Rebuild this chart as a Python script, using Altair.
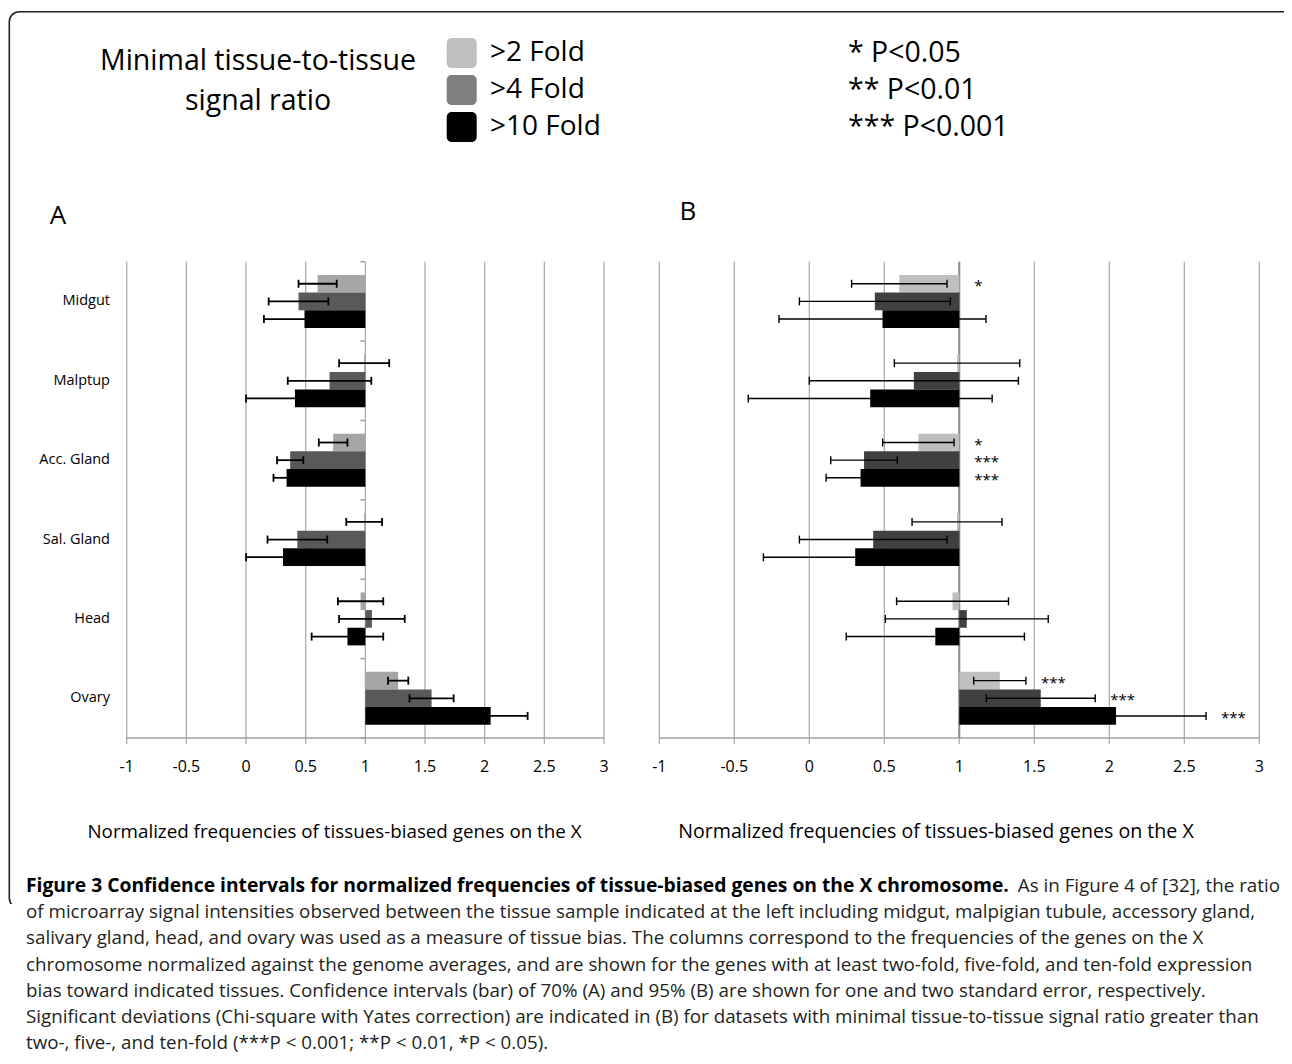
import altair as alt
import pandas as pd

# ---------------- data ----------------
tissues = ["Midgut", "Malptup", "Acc. Gland", "Sal. Gland", "Head", "Ovary"]
series = [">2 Fold", ">4 Fold", ">10 Fold"]

# Panel A (70% CI, one standard error)
a_fold2 = [0.60, 0.99, 0.73, 0.99, 0.96, 1.275]
a_fold4 = [0.44, 0.70, 0.37, 0.43, 1.055, 1.555]
a_fold10 = [0.49, 0.41, 0.34, 0.31, 0.85, 2.05]
a_err2 = [0.16, 0.21, 0.12, 0.15, 0.19, 0.085]
a_err4 = [0.25, 0.35, 0.11, 0.25, 0.275, 0.185]
a_err10 = [0.34, 0.41, 0.11, 0.31, 0.30, 0.31]

# Panel B (95% CI, two standard errors)
b_fold2 = [0.60, 0.985, 0.727, 0.985, 0.955, 1.27]
b_fold4 = [0.437, 0.697, 0.365, 0.426, 1.05, 1.543]
b_fold10 = [0.488, 0.406, 0.342, 0.306, 0.84, 2.045]
b_err2 = [0.318, 0.418, 0.238, 0.30, 0.373, 0.174]
b_err4 = [0.503, 0.697, 0.222, 0.492, 0.543, 0.363]
b_err10 = [0.69, 0.813, 0.23, 0.612, 0.594, 0.60]
b_stars2 = ["*", "", "*", "", "", "***"]
b_stars4 = ["", "", "***", "", "", "***"]
b_stars10 = ["", "", "***", "", "", "***"]

tick_values = [-1, -0.5, 0, 0.5, 1, 1.5, 2, 2.5, 3]
tick_labels = ["-1", "-0.5", "0", "0.5", "1", "1.5", "2", "2.5", "3"]

p_labels = ["* P<0.05", "** P<0.01", "*** P<0.001"]
legend_title = ["Minimal tissue-to-tissue", "signal ratio"]
axis_title = "Normalized frequencies of tissues-biased genes on the X"

caption_bold = ("Figure 3 Confidence intervals for normalized frequencies of "
                "tissue-biased genes on the X chromosome.")
caption_first_rest = "As in Figure 4 of [32], the ratio"
caption_lines = [
    "of microarray signal intensities observed between the tissue sample indicated at the left including midgut, malpigian tubule, accessory gland,",
    "salivary gland, head, and ovary was used as a measure of tissue bias. The columns correspond to the frequencies of the genes on the X",
    "chromosome normalized against the genome averages, and are shown for the genes with at least two-fold, five-fold, and ten-fold expression",
    "bias toward indicated tissues. Confidence intervals (bar) of 70% (A) and 95% (B) are shown for one and two standard error, respectively.",
    "Significant deviations (Chi-square with Yates correction) are indicated in (B) for datasets with minimal tissue-to-tissue signal ratio greater than",
    "two-, five-, and ten-fold (***P < 0.001; **P < 0.01, *P < 0.05).",
]

colors_a = ["#A6A6A6", "#595959", "#000000"]
colors_b = ["#BFBFBF", "#404040", "#000000"]
colors_legend = ["#BFBFBF", "#7F7F7F", "#000000"]

FONT = "Open Sans"


def panel_frame(vals, errs, stars=None):
    rows = []
    for si, s in enumerate(series):
        for ti, t in enumerate(tissues):
            v = vals[si][ti]
            e = errs[si][ti]
            rows.append(dict(tissue=t, series=s, value=v, base=1.0,
                             lo=v - e, hi=v + e,
                             star=(stars[si][ti] if stars else ""),
                             starx=max(v + e, 1.0)))
    return pd.DataFrame(rows)


df_a = panel_frame([a_fold2, a_fold4, a_fold10], [a_err2, a_err4, a_err10])
df_b = panel_frame([b_fold2, b_fold4, b_fold10], [b_err2, b_err4, b_err10],
                   [b_stars2, b_stars4, b_stars10])
df_ticks = pd.DataFrame({"tick": tick_values, "label": tick_labels})
df_tis = pd.DataFrame({"tissue": tissues})
df_leg = pd.DataFrame({"series": series, "plabel": p_labels})
df_one = pd.DataFrame({"lo": [-1], "hi": [3], "one": [1]})
df_bounds = pd.DataFrame({"b": list(range(len(tissues) + 1)), "one": 1})

PLOT_TOP, PLOT_BOT = 253.7, 730.0
y_scale = alt.Scale(domain=tissues, range=[PLOT_TOP, PLOT_BOT],
                    paddingInner=0.333, paddingOuter=0.1667)
yoff_scale = alt.Scale(domain=series, paddingInner=0, paddingOuter=0)
XA_RANGE = [118.7, 596.0]
XB_RANGE = [651.3, 1251.3]


def panel(df, x_range, colors, err_w, show_tissues, axis_dark, stars):
    xs = alt.Scale(domain=[-1, 3], range=x_range, nice=False, zero=False)
    Y = alt.Y("tissue:N", scale=y_scale, axis=None)
    YO = alt.YOffset("series:N", scale=yoff_scale)
    grid = alt.Chart(df_ticks).mark_rule(color="#A6A6A6", strokeWidth=1.2).encode(
        x=alt.X("tick:Q", scale=xs, axis=None),
        y=alt.value(PLOT_TOP), y2=alt.value(PLOT_BOT + 6))
    base = alt.Chart(df_one).mark_rule(color="#A0A0A0", strokeWidth=1.6).encode(
        x=alt.X("lo:Q", scale=xs, axis=None), x2="hi:Q", y=alt.value(PLOT_BOT))
    labels = alt.Chart(df_ticks).mark_text(font=FONT, fontSize=16, baseline="middle",
                                           color="#000000").encode(
        x=alt.X("tick:Q", scale=xs, axis=None), y=alt.value(759), text="label:N")
    bars = alt.Chart(df).mark_bar().encode(
        x=alt.X("value:Q", scale=xs, axis=None), x2="base:Q",
        y=Y, yOffset=YO,
        color=alt.Color("series:N", scale=alt.Scale(domain=series, range=colors), legend=None))
    err = alt.Chart(df).mark_rule(color="#000000", strokeWidth=err_w).encode(
        x=alt.X("lo:Q", scale=xs, axis=None), x2="hi:Q", y=Y, yOffset=YO)
    cap_lo = alt.Chart(df).mark_point(shape="M0,-1L0,1", size=64, filled=False,
                                      color="#000000", strokeWidth=err_w, opacity=1).encode(
        x=alt.X("lo:Q", scale=xs, axis=None), y=Y, yOffset=YO)
    cap_hi = alt.Chart(df).mark_point(shape="M0,-1L0,1", size=64, filled=False,
                                      color="#000000", strokeWidth=err_w, opacity=1).encode(
        x=alt.X("hi:Q", scale=xs, axis=None), y=Y, yOffset=YO)
    layers = [grid, base, labels]
    if axis_dark:
        layers.append(alt.Chart(df_one).mark_rule(color="#8C8C8C", strokeWidth=2).encode(
            x=alt.X("one:Q", scale=xs, axis=None),
            y=alt.value(PLOT_TOP), y2=alt.value(PLOT_BOT)))
    layers += [bars, err, cap_lo, cap_hi]
    if show_tissues:
        layers.append(alt.Chart(df_tis).mark_text(font=FONT, fontSize=14.5, align="right",
                                                  baseline="middle").encode(
            y=alt.Y("tissue:N", scale=y_scale, axis=None), x=alt.value(102), text="tissue:N"))
    if stars:
        layers.append(alt.Chart(df).mark_text(font=FONT, fontSize=15, align="left",
                                              baseline="middle", dx=15, dy=2).encode(
            x=alt.X("starx:Q", scale=xs, axis=None), y=Y, yOffset=YO, text="star:N"))
    return alt.layer(*layers)


panel_a = panel(df_a, XA_RANGE, colors_a, 1.8, True, False, False)
panel_b = panel(df_b, XB_RANGE, colors_b, 1.4, False, True, True)

# category separator ticks on the vertical axis (x = 1) of panel A
a_axis_ticks = alt.Chart(df_bounds).mark_point(
    shape="M-1,0L0,0", size=100, filled=False, color="#A0A0A0", strokeWidth=1.5, opacity=1
).encode(
    x=alt.X("one:Q", scale=alt.Scale(domain=[-1, 3], range=XA_RANGE, nice=False, zero=False),
            axis=None),
    y=alt.Y("b:Q", scale=alt.Scale(domain=[0, len(tissues)], range=[PLOT_TOP, PLOT_BOT],
                                   nice=False, zero=False), axis=None))

# frame + cover
frame = alt.Chart(df_one).mark_rect(filled=False, stroke="#231F20", strokeWidth=1.6,
                                    cornerRadius=10).encode(
    x=alt.value(1.3), x2=alt.value(1300), y=alt.value(3.7), y2=alt.value(900))
cover = alt.Chart(df_one).mark_rect(color="#FFFFFF").encode(
    x=alt.value(-5), x2=alt.value(1290), y=alt.value(896), y2=alt.value(1060))

# legend
leg_y = alt.Y("series:N", scale=alt.Scale(domain=series, range=[26.5, 137.5],
                                         paddingInner=0.19, paddingOuter=0.095), axis=None)
swatch = alt.Chart(df_leg).mark_rect(cornerRadius=5).encode(
    y=leg_y, x=alt.value(438.7), x2=alt.value(468.7),
    color=alt.Color("series:N", scale=alt.Scale(domain=series, range=colors_legend), legend=None))
sw_lab = alt.Chart(df_leg).mark_text(font=FONT, fontSize=28, align="left",
                                     baseline="middle").encode(
    y=leg_y, x=alt.value(482), text="series:N")
p_lab = alt.Chart(df_leg).mark_text(font=FONT, fontSize=28.5, align="left",
                                    baseline="middle").encode(
    y=leg_y, x=alt.value(840), text="plabel:N")
leg_title = alt.Chart(df_one).mark_text(font=FONT, fontSize=28.5, align="center",
                                        baseline="middle", lineHeight=40).encode(
    x=alt.value(250), y=alt.value(53), text=alt.value(legend_title))
legend = alt.layer(swatch, sw_lab, p_lab)

# panel letters and axis titles
letter_a = alt.Chart(df_one).mark_text(font=FONT, fontSize=26, baseline="middle").encode(
    x=alt.value(50), y=alt.value(208), text=alt.value("A"))
letter_b = alt.Chart(df_one).mark_text(font=FONT, fontSize=26, baseline="middle").encode(
    x=alt.value(680), y=alt.value(204), text=alt.value("B"))
title_a = alt.Chart(df_one).mark_text(font=FONT, fontSize=18.8, baseline="middle").encode(
    x=alt.value(326.5), y=alt.value(824), text=alt.value(axis_title))
title_b = alt.Chart(df_one).mark_text(font=FONT, fontSize=19.6, baseline="middle").encode(
    x=alt.value(928), y=alt.value(824), text=alt.value(axis_title))

# caption
CAP_Y = 884
CAP_LH = 26.2
CAP_FS = 18.8
cap_bold = alt.Chart(df_one).mark_text(font=FONT, fontSize=19.3, fontWeight="bold",
                                       align="left", baseline="alphabetic",
                                       color="#000000").encode(
    x=alt.value(18), y=alt.value(CAP_Y), text=alt.value(caption_bold))
cap_first = alt.Chart(df_one).mark_text(font=FONT, fontSize=CAP_FS, align="right",
                                        baseline="alphabetic", color="#231F20").encode(
    x=alt.value(1272), y=alt.value(CAP_Y), text=alt.value(caption_first_rest))
cap_rest = alt.Chart(df_one).mark_text(font=FONT, fontSize=CAP_FS, align="left",
                                       baseline="alphabetic", lineHeight=CAP_LH,
                                       color="#231F20").encode(
    x=alt.value(18), y=alt.value(CAP_Y + CAP_LH), text=alt.value(caption_lines))

chart = alt.layer(
    frame, cover, leg_title, legend, letter_a, letter_b, title_a, title_b,
    panel_a, a_axis_ticks, panel_b, cap_bold, cap_first, cap_rest
).resolve_scale(
    x="independent", y="independent", color="independent", yOffset="independent"
).properties(
    width=1276, height=1048, padding=0, autosize=alt.AutoSizeParams(type="none")
).configure_view(stroke=None)

chart.save("out.html", embed_options={"renderer": "svg", "actions": False})
